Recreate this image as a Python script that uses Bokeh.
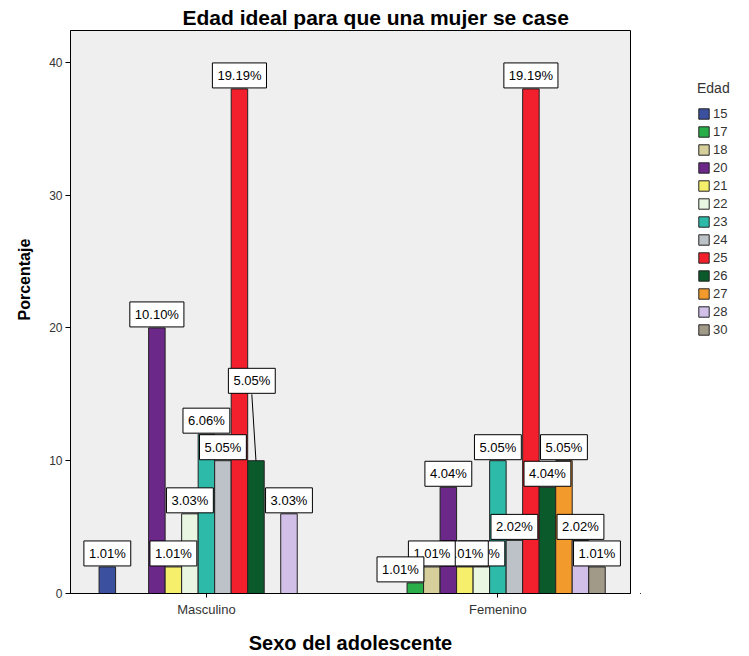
from bokeh.plotting import figure
from bokeh.layouts import row
from bokeh.models import ColumnDataSource, Range1d, FixedTicker, Legend, LegendItem, Title
from bokeh.embed import file_html
from bokeh.resources import INLINE
from bokeh.core.properties import value

# ---------------- data ----------------
title_text = "Edad ideal para que una mujer se case"
x_title = "Sexo del adolescente"
y_title = "Porcentaje"
legend_title = "Edad"
groups = ["Masculino", "Femenino"]
ages = ["15", "17", "18", "20", "21", "22", "23", "24", "25", "26", "27", "28", "30"]
masculino_pct = [2, 0, 0, 20, 2, 6, 12, 10, 38, 10, 0, 6, 0]
femenino_pct = [0, 0.8, 2, 8, 2, 2, 10, 4, 38, 8, 10, 4, 2]
masculino_labels = ["1.01%", "", "", "10.10%", "1.01%", "3.03%", "6.06%", "5.05%",
                    "19.19%", "5.05%", "", "3.03%", ""]
femenino_labels = ["", "1.01%", "1.01%", "4.04%", "1.01%", "1.01%", "5.05%", "2.02%",
                   "19.19%", "4.04%", "5.05%", "2.02%", "1.01%"]
y_ticks = [0, 10, 20, 30, 40]

# ---------------- style / layout ----------------
FONT = "Liberation Sans"
age_colors = ["#3c50a0", "#2aae4a", "#d6cf9c", "#6c2888", "#f6ef6c", "#e9f7e2",
              "#2dbaa8", "#bcc2c8", "#f2202c", "#0b5a2c", "#f39a2c", "#d2bfe8", "#a19a88"]
SLOT = 1 / 17.65          # width of one age slot in axis units (group centres at 0 and 1)
CENTER_SLOT = 6
# label displacements (slots, y units) where the original moved labels to avoid overlaps
label_nudge = {("Masculino", "26"): (-0.25, 5.0), ("Femenino", "17"): (-0.9, 0.0)}

MAIN_W, LEG_W, H = 640, 109, 656

p = figure(width=MAIN_W, height=H, output_backend="svg", toolbar_location=None,
           x_range=Range1d(-8.23 * SLOT, 1 + 8.03 * SLOT), y_range=Range1d(0, 42.4),
           min_border_left=68, min_border_right=10, min_border_top=30, min_border_bottom=61,
           background_fill_color="#efefef", border_fill_color="white")

series = [masculino_pct, femenino_pct]
label_series = [masculino_labels, femenino_labels]

for i, age in enumerate(ages):
    xs, tops = [], []
    for g, vals in enumerate(series):
        if vals[i] > 0:
            xs.append(g + (i - CENTER_SLOT) * SLOT)
            tops.append(vals[i])
    src = ColumnDataSource(dict(x=xs, top=tops))
    p.vbar(x="x", top="top", width=SLOT, bottom=0, source=src,
           fill_color=age_colors[i], line_color="#222222", line_width=1)

# data labels (drawn in reverse order so earlier labels sit on top)
lx, ly, lt = [], [], []
sx0, sy0, sx1, sy1 = [], [], [], []
for g, grp in enumerate(groups):
    for i, age in enumerate(ages):
        txt = label_series[g][i]
        if not txt:
            continue
        dx, dy = label_nudge.get((grp, age), (0.0, 0.0))
        bx = g + (i - CENTER_SLOT) * SLOT
        top = series[g][i]
        lx.append(bx + dx * SLOT)
        ly.append(top + dy)
        lt.append(txt)
        if dy > 0:
            sx0.append(bx); sy0.append(top)
            sx1.append(bx + dx * SLOT); sy1.append(top + dy)

p.segment(x0=sx0, y0=sy0, x1=sx1, y1=sy1, line_color="black", line_width=1)

lsrc = ColumnDataSource(dict(x=lx[::-1], y=ly[::-1], text=lt[::-1]))
p.text(x="x", y="y", text="text", source=lsrc, anchor="bottom_center",
       text_align="center", text_baseline="bottom", y_offset=-1, padding=5,
       background_fill_color="white", border_line_color="black", border_line_width=1,
       text_font=value(FONT), text_font_size="13px", text_color="black")

# axes
p.xaxis.ticker = FixedTicker(ticks=[0, 1])
p.xaxis.major_label_overrides = {0: groups[0], 1: groups[1]}
p.yaxis.ticker = FixedTicker(ticks=y_ticks)
for ax in (p.xaxis, p.yaxis):
    ax.axis_line_color = "black"
    ax.major_tick_line_color = "black"
    ax.minor_tick_line_color = None
    ax.major_tick_in = 0
    ax.major_label_text_font = FONT
    ax.major_label_text_color = "#333333"
    ax.axis_label_text_font = FONT
    ax.axis_label_text_font_style = "bold"
    ax.axis_label_text_color = "black"
p.xaxis.major_tick_out = 4
p.yaxis.major_tick_out = 5
p.xaxis.major_label_text_font_size = "13px"
p.yaxis.major_label_text_font_size = "12px"
p.xaxis.major_label_standoff = 4
p.yaxis.major_label_standoff = 3
p.xaxis.axis_label = x_title
p.xaxis.axis_label_text_font_size = "20px"
p.xaxis.axis_label_standoff = 12
p.xgrid.visible = False
p.ygrid.visible = False
p.outline_line_color = "black"
p.outline_line_width = 1

# y axis title as a side title so it can sit where the original has it
ytitle = Title(text=y_title, align="left", offset=273, text_font=FONT,
               text_font_size="16px", text_font_style="bold", text_color="black",
               standoff=27)
p.add_layout(ytitle, "left")

p.title.text = title_text
p.title.align = "left"
p.title.offset = 112
p.title.text_font = FONT
p.title.text_font_size = "21px"
p.title.text_font_style = "bold"
p.title.text_color = "black"
p.title.standoff = 3

# legend in its own narrow figure to the right of the chart
lfig = figure(width=LEG_W, height=H, output_backend="svg", toolbar_location=None,
              x_axis_location=None, y_axis_location=None, min_border=0,
              x_range=Range1d(0, 1), y_range=Range1d(0, 1),
              outline_line_color=None, background_fill_color="white",
              border_fill_color="white")
lfig.xgrid.visible = False
lfig.ygrid.visible = False
legend_items = []
for i, age in enumerate(ages):
    # legend proxy kept outside the visible range
    r = lfig.vbar(x=[-5], top=[-5], bottom=-6, width=1, fill_color=age_colors[i],
                  line_color="#222222", line_width=1)
    legend_items.append(LegendItem(label=age, renderers=[r]))

legend = Legend(items=legend_items, location=(57, 256), title=legend_title,
                title_text_font=FONT, title_text_font_size="14px", title_text_font_style="normal",
                title_text_color="#333333", title_standoff=10,
                label_text_font=FONT, label_text_font_size="13px", label_text_color="#333333",
                glyph_width=13, glyph_height=13, label_height=13, spacing=3, label_standoff=3,
                padding=10, background_fill_alpha=0, border_line_color=None)
lfig.add_layout(legend, "center")

layout = row(p, lfig, spacing=0)
open("out.html", "w").write(file_html(layout, INLINE))
